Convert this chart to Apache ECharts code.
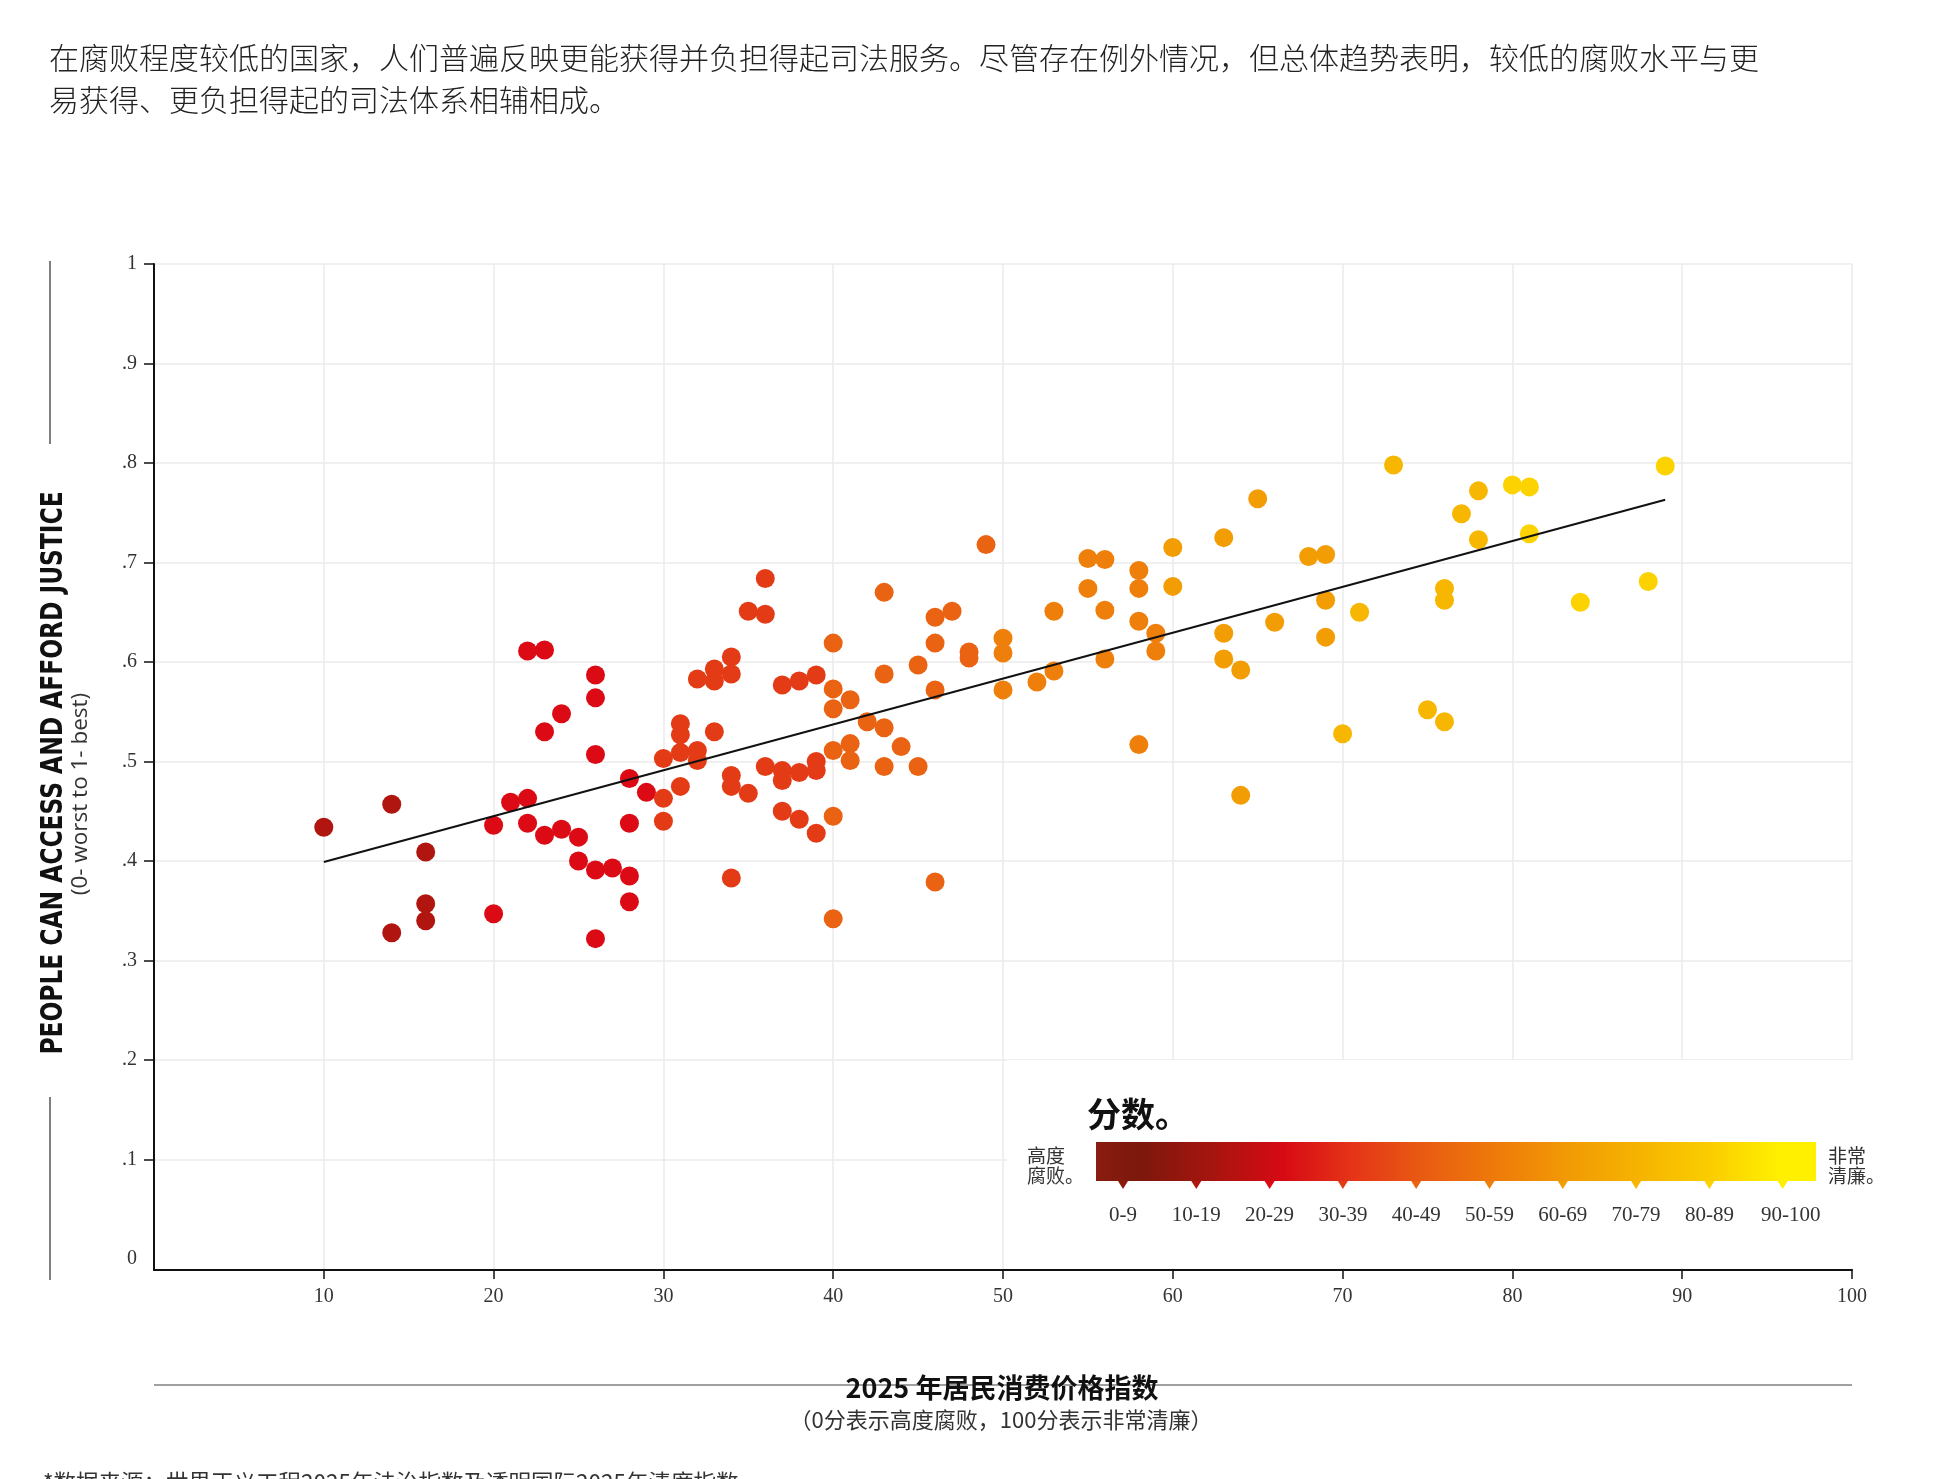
<!DOCTYPE html>
<html>
<head>
<meta charset="utf-8">
<script src="https://cdn.jsdelivr.net/npm/echarts@6/dist/echarts.min.js"></script>
<style>
html, body { margin: 0; padding: 0; background: #fff; }
#chart { width: 1948px; height: 1479px; }
</style>
</head>
<body>
<div id="chart"></div>
<script>
// CPI 2025 score (x) and "people can access and afford justice" (y)
const CPI = [
  10, 14, 14, 16, 16, 16, 20, 20, 21, 22, 22, 22, 23, 23, 23, 24, 24, 25, 25,
  26, 26, 26, 26, 26, 27, 28, 28, 28, 28, 29, 30, 30, 30, 31, 31, 31, 31,
  32, 32, 32, 33, 33, 33, 34, 34, 34, 34, 34, 35, 35, 36, 36, 36,
  37, 37, 37, 37, 38, 38, 38, 39, 39, 39, 39, 40, 40, 40, 40, 40, 40,
  41, 41, 41, 42, 43, 43, 43, 43, 44, 45, 45, 46, 46, 46, 46, 47, 48, 48, 49,
  50, 50, 50, 52, 53, 53, 55, 55, 56, 56, 56, 58, 58, 58, 58, 59, 59, 60, 60,
  63, 63, 63, 64, 64, 65, 66, 68, 69, 69, 69, 70, 71, 73, 75, 76, 76, 76, 77,
  78, 78, 80, 81, 81, 84, 88, 89
]
const ACCESS = [
  0.434, 0.457, 0.328, 0.409, 0.357, 0.340, 0.436, 0.347, 0.459, 0.611, 0.463, 0.438, 0.612, 0.530, 0.426, 0.548, 0.432, 0.424, 0.400,
  0.587, 0.564, 0.507, 0.391, 0.322, 0.393, 0.483, 0.438, 0.385, 0.359, 0.469, 0.503, 0.463, 0.440, 0.538, 0.527, 0.509, 0.475,
  0.583, 0.511, 0.501, 0.593, 0.581, 0.530, 0.605, 0.588, 0.486, 0.475, 0.383, 0.651, 0.468, 0.684, 0.648, 0.495,
  0.577, 0.491, 0.481, 0.450, 0.581, 0.489, 0.442, 0.587, 0.500, 0.491, 0.428, 0.619, 0.573, 0.553, 0.511, 0.445, 0.342,
  0.562, 0.518, 0.501, 0.540, 0.670, 0.588, 0.534, 0.495, 0.515, 0.597, 0.495, 0.645, 0.619, 0.572, 0.379, 0.651, 0.610, 0.604, 0.718,
  0.624, 0.609, 0.572, 0.580, 0.651, 0.591, 0.704, 0.674, 0.703, 0.652, 0.603, 0.692, 0.674, 0.641, 0.517, 0.629, 0.611, 0.715, 0.676,
  0.725, 0.629, 0.603, 0.592, 0.466, 0.764, 0.640, 0.706, 0.708, 0.662, 0.625, 0.528, 0.650, 0.798, 0.552, 0.674, 0.662, 0.540, 0.749,
  0.772, 0.723, 0.778, 0.776, 0.729, 0.660, 0.681, 0.797
]

// trend line end points
const TREND_X = [10, 89]
const TREND_Y = [0.399, 0.763]

// colour bands of the score legend
const BAND_LABELS = ['0-9', '10-19', '20-29', '30-39', '40-49', '50-59', '60-69', '70-79', '80-89', '90-100']
const BAND_MIN = [0, 10, 20, 30, 40, 50, 60, 70, 80, 90]
const BAND_COLORS = ['#8a1a0e', '#b0160f', '#db0a14', '#e43b17', '#ea6312', '#ef7f0b', '#f39d05', '#f7b700', '#fcd200', '#ffee00']

const X_TICKS = [10, 20, 30, 40, 50, 60, 70, 80, 90, 100]
const Y_TICKS = [0.1, 0.2, 0.3, 0.4, 0.5, 0.6, 0.7, 0.8, 0.9, 1]
const Y_LABELS = [0, 0.1, 0.2, 0.3, 0.4, 0.5, 0.6, 0.7, 0.8, 0.9, 1]

const TITLE = '在腐败程度较低的国家，人们普遍反映更能获得并负担得起司法服务。尽管存在例外情况，但总体趋势表明，较低的腐败水平与更\n易获得、更负担得起的司法体系相辅相成。'

const CJK = '"Noto Sans CJK SC", "Noto Sans", sans-serif'
const SERIF = '"Liberation Serif", "DejaVu Serif", serif'

const chart = echarts.init(document.getElementById('chart'))

const points = CPI.map((x, i) => [x, ACCESS[i]])
const trend = TREND_X.map((x, i) => [x, TREND_Y[i]])

// legend geometry
const legX = 1096
const legY = 1142
const legW = 720
const legH = 39
const triX0 = 1123
const triStep = 73.3

const legendGraphics = [
  {
    type: 'rect', z: 1,
    shape: { x: 1007, y: 1060, width: 846, height: 208 },
    style: { fill: '#fff' },
  },
  {
    type: 'text', z: 5, x: 1087, y: 1114,
    style: { text: '分数。', font: 'bold 34px ' + CJK, fill: '#111', verticalAlign: 'middle' },
  },
  {
    type: 'rect', z: 5,
    shape: { x: legX, y: legY, width: legW, height: legH },
    style: {
      fill: new echarts.graphic.LinearGradient(0, 0, 1, 0, [
        { offset: 0, color: '#8a1c10' },
        { offset: 0.06, color: '#7c180c' },
        { offset: 0.16, color: '#a5150f' },
        { offset: 0.26, color: '#d70a14' },
        { offset: 0.36, color: '#e53618' },
        { offset: 0.46, color: '#e95d12' },
        { offset: 0.56, color: '#ee7c09' },
        { offset: 0.66, color: '#f29b05' },
        { offset: 0.76, color: '#f6b500' },
        { offset: 0.86, color: '#fbcf00' },
        { offset: 0.95, color: '#fff000' },
        { offset: 1, color: '#fff000' },
      ]),
    },
  },
  {
    type: 'text', z: 5, x: 1027, y: 1166,
    style: { text: '高度\n腐败。', font: '19px ' + CJK, lineHeight: 20, fill: '#333', verticalAlign: 'middle' },
  },
  {
    type: 'text', z: 5, x: 1828, y: 1166,
    style: { text: '非常\n清廉。', font: '19px ' + CJK, lineHeight: 20, fill: '#333', verticalAlign: 'middle' },
  },
]

BAND_LABELS.forEach((label, i) => {
  const cx = triX0 + i * triStep
  legendGraphics.push({
    type: 'polygon', z: 5,
    shape: { points: [[cx - 5, legY + legH], [cx + 5, legY + legH], [cx, legY + legH + 8]] },
    style: { fill: BAND_COLORS[i] },
  })
  legendGraphics.push({
    type: 'text', z: 5, x: cx + (i === 9 ? 8 : 0), y: 1215,
    style: { text: label, font: '21px ' + SERIF, fill: '#333', align: 'center', verticalAlign: 'middle' },
  })
})

const option = {
  animation: false,
  backgroundColor: '#fff',
  title: {
    text: TITLE,
    left: 44,
    top: 32,
    textStyle: {
      fontFamily: CJK,
      fontSize: 30,
      fontWeight: 300,
      lineHeight: 42,
      color: '#222',
    },
  },
  grid: {
    left: 154,
    right: 96,
    top: 264,
    bottom: 209,
  },
  visualMap: {
    type: 'piecewise',
    show: false,
    dimension: 0,
    seriesIndex: 0,
    pieces: BAND_MIN.map((m, i) => ({
      gte: m,
      lt: i === BAND_MIN.length - 1 ? 100.01 : BAND_MIN[i + 1],
      color: BAND_COLORS[i],
    })),
  },
  xAxis: {
    type: 'value',
    min: 0,
    max: 100,
    axisLine: { onZero: false, lineStyle: { color: '#111', width: 2 } },
    axisTick: { show: true, length: 9, customValues: X_TICKS, lineStyle: { color: '#111', width: 1.5 } },
    axisLabel: {
      customValues: X_TICKS,
      margin: 17,
      fontFamily: SERIF,
      fontSize: 20,
      color: '#333',
    },
    splitLine: { show: true, lineStyle: { color: '#ebebeb', width: 1.5 } },
  },
  yAxis: {
    type: 'value',
    min: -0.011,
    max: 1,
    axisLine: { show: true, lineStyle: { color: '#111', width: 2 } },
    axisTick: { show: true, length: 10, customValues: Y_TICKS, lineStyle: { color: '#111', width: 1.5 } },
    axisLabel: {
      customValues: Y_LABELS,
      margin: 17,
      fontFamily: SERIF,
      fontSize: 20,
      color: '#333',
      formatter: v => (v === 0 ? '0' : v === 1 ? '1' : v.toFixed(1).replace(/^0/, '')),
    },
    splitLine: { show: true, lineStyle: { color: '#ebebeb', width: 1.5 } },
  },
  series: [
    {
      type: 'scatter',
      data: points,
      symbolSize: 19,
      itemStyle: { opacity: 1 },
      z: 2,
    },
    {
      type: 'line',
      data: trend,
      symbol: 'none',
      lineStyle: { color: '#111', width: 2 },
      z: 3,
    },
  ],
  graphic: [
    // y axis name with bracket lines
    {
      type: 'line', z: 5,
      shape: { x1: 50, y1: 261, x2: 50, y2: 444 },
      style: { stroke: '#555', lineWidth: 1.5 },
    },
    {
      type: 'line', z: 5,
      shape: { x1: 50, y1: 1097, x2: 50, y2: 1280 },
      style: { stroke: '#555', lineWidth: 1.5 },
    },
    {
      type: 'text', z: 5, x: 54, y: 773, rotation: Math.PI / 2, scaleX: 0.865,
      style: {
        text: 'PEOPLE CAN ACCESS AND AFFORD JUSTICE',
        font: 'bold 30px "Liberation Sans Narrow", "DejaVu Sans Condensed", sans-serif',
        fill: '#111', align: 'center', verticalAlign: 'middle',
      },
    },
    {
      type: 'text', z: 5, x: 81, y: 794, rotation: Math.PI / 2,
      style: {
        text: '(0- worst to 1- best)',
        font: '22.5px "Open Sans", sans-serif',
        fill: '#333', align: 'center', verticalAlign: 'middle',
      },
    },
    // x axis name
    {
      type: 'line', z: 4,
      shape: { x1: 154, y1: 1385, x2: 1852, y2: 1385 },
      style: { stroke: '#808080', lineWidth: 1.5 },
    },
    {
      type: 'text', z: 5, x: 1002, y: 1388,
      style: { text: '2025 年居民消费价格指数', font: 'bold 27px ' + CJK, fill: '#111', align: 'center', verticalAlign: 'middle' },
    },
    {
      type: 'text', z: 5, x: 1001, y: 1420,
      style: { text: '（0分表示高度腐败，100分表示非常清廉）', font: '22px ' + CJK, fill: '#333', align: 'center', verticalAlign: 'middle' },
    },
    {
      type: 'text', z: 5, x: 43, y: 1471,
      style: { text: '*数据来源：世界正义工程2025年法治指数及透明国际2025年清廉指数', font: '22.5px ' + CJK, fill: '#333', verticalAlign: 'top' },
    },
    ...legendGraphics,
  ],
}

chart.setOption(option)
</script>
</body>
</html>
